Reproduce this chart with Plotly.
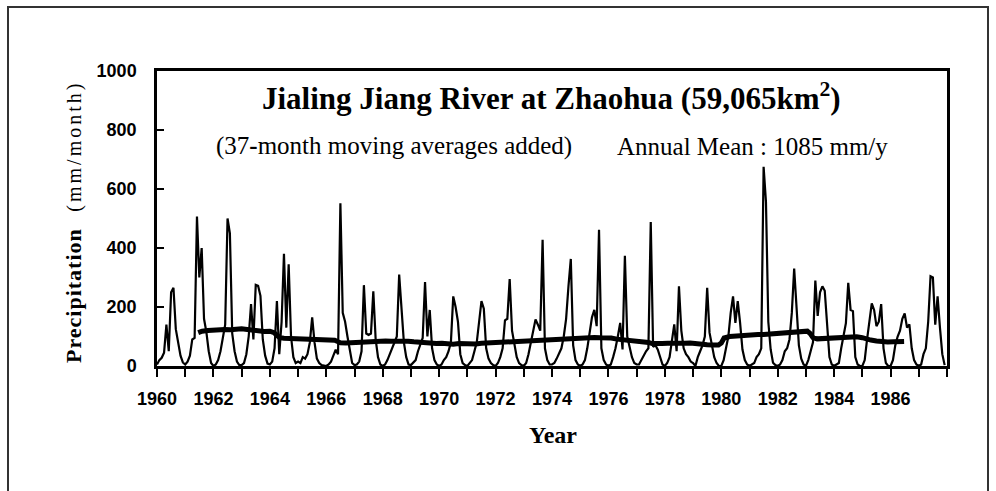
import plotly.graph_objects as go

# ---------------- data ----------------
start_year = 1960

# monthly precipitation (mm/month), Jan 1960 .. Dec 1987, 12 values per row
precip_mm = [
    5, 20, 28, 45, 140, 50, 250, 265, 125, 75, 35, 12,          # 1960
    5, 15, 35, 90, 95, 507, 300, 400, 160, 115, 50, 10,         # 1961
    0, 5, 20, 50, 100, 140, 500, 450, 110, 50, 15, 3,           # 1962
    3, 10, 40, 100, 210, 90, 275, 272, 238, 90, 35, 8,          # 1963
    5, 15, 60, 220, 40, 150, 380, 130, 345, 100, 30, 10,        # 1964
    15, 10, 30, 25, 40, 80, 165, 80, 25, 10, 3, 2,              # 1965
    0, 5, 15, 35, 55, 40, 552, 180, 150, 100, 50, 10,           # 1966
    3, 5, 15, 50, 274, 110, 105, 110, 253, 90, 30, 5,           # 1967
    0, 5, 20, 40, 60, 80, 100, 310, 190, 80, 30, 5,             # 1968
    3, 10, 20, 50, 70, 95, 285, 100, 190, 60, 20, 5,            # 1969
    0, 5, 20, 30, 50, 80, 236, 200, 150, 40, 10, 3,             # 1970
    0, 10, 20, 50, 80, 150, 220, 194, 60, 25, 10, 3,            # 1971
    0, 10, 30, 60, 155, 160, 295, 120, 80, 30, 10, 3,           # 1972
    0, 10, 40, 80, 120, 158, 140, 120, 428, 60, 20, 5,          # 1973
    5, 10, 25, 40, 60, 100, 160, 270, 363, 70, 20, 5,           # 1974
    0, 5, 20, 60, 110, 165, 190, 135, 462, 60, 20, 5,           # 1975
    0, 5, 30, 60, 100, 146, 56, 374, 100, 60, 30, 10,           # 1976
    5, 5, 20, 40, 50, 60, 488, 65, 70, 55, 30, 5,               # 1977
    0, 10, 30, 80, 141, 50, 270, 120, 60, 40, 30, 15,           # 1978
    10, 0, 30, 50, 70, 100, 265, 113, 75, 30, 10, 0,            # 1979
    0, 20, 60, 100, 180, 236, 146, 220, 146, 56, 20, 5,         # 1980
    0, 5, 10, 30, 40, 60, 675, 557, 150, 56, 11, 3,             # 1981
    0, 5, 20, 50, 60, 90, 180, 330, 180, 70, 25, 5,             # 1982
    0, 20, 50, 80, 290, 170, 250, 270, 255, 130, 30, 5,         # 1983
    0, 5, 10, 60, 100, 145, 282, 190, 186, 30, 5, 0,            # 1984
    0, 20, 90, 160, 212, 190, 135, 150, 210, 60, 10, 0,         # 1985
    0, 20, 70, 100, 120, 160, 178, 130, 141, 60, 20, 5,         # 1986
    0, 5, 40, 60, 150, 304, 300, 140, 236, 130, 40, 3,          # 1987
]

# 37-month moving average
ma_year = [
    1961.46, 1961.6, 1961.8, 1962.0, 1962.2, 1962.4, 1962.6, 1962.8, 1963.0, 1963.2,
    1963.4, 1963.6, 1963.8, 1964.0, 1964.15, 1964.25, 1964.35, 1964.5, 1964.7, 1964.9,
    1965.1, 1965.3, 1965.5, 1965.7, 1965.9, 1966.1, 1966.3, 1966.42, 1966.5, 1966.7,
    1966.9, 1967.1, 1967.3, 1967.5, 1967.7, 1967.9, 1968.1, 1968.3, 1968.5, 1968.7,
    1968.9, 1969.1, 1969.3, 1969.5, 1969.7, 1969.9, 1970.1, 1970.3, 1970.5, 1970.7,
    1970.9, 1971.1, 1971.3, 1971.5, 1971.7, 1971.9, 1972.1, 1972.3, 1972.5, 1972.7,
    1972.9, 1973.1, 1973.3, 1973.5, 1973.7, 1973.9, 1974.1, 1974.3, 1974.5, 1974.7,
    1974.9, 1975.1, 1975.3, 1975.5, 1975.7, 1975.9, 1976.1, 1976.3, 1976.5, 1976.7,
    1976.9, 1977.1, 1977.3, 1977.42, 1977.55, 1977.7, 1977.9, 1978.1, 1978.3, 1978.5,
    1978.7, 1978.9, 1979.1, 1979.3, 1979.5, 1979.7, 1979.9, 1980.0, 1980.1, 1980.3,
    1980.5, 1980.7, 1980.9, 1981.1, 1981.3, 1981.5, 1981.7, 1981.9, 1982.1, 1982.3,
    1982.5, 1982.7, 1982.9, 1983.05, 1983.15, 1983.25, 1983.4, 1983.6, 1983.8, 1984.0,
    1984.2, 1984.4, 1984.6, 1984.8, 1985.0, 1985.1, 1985.3, 1985.5, 1985.7, 1985.9,
    1986.1, 1986.3, 1986.48,
]
ma_value = [
    113, 118, 120, 122, 121, 124, 123, 125, 126, 124,
    121, 118, 117, 118, 113, 104, 96, 94, 93, 92,
    93, 90, 91, 89, 90, 89, 87, 82, 79, 78,
    79, 81, 84, 85, 86, 85, 85, 84, 85, 83,
    84, 82, 80, 78, 77, 76, 77, 75, 74, 76,
    75, 76, 75, 77, 78, 80, 82, 83, 83, 84,
    84, 85, 86, 87, 88, 90, 92, 93, 93, 95,
    94, 95, 96, 97, 96, 97, 95, 91, 89, 88,
    87, 87, 85, 80, 76, 75, 76, 77, 76, 78,
    77, 78, 75, 73, 72, 71, 71, 78, 95, 100,
    102, 104, 104, 106, 107, 107, 108, 109, 110, 111,
    112, 113, 116, 118, 110, 96, 92, 93, 93, 95,
    96, 98, 99, 99, 96, 92, 88, 85, 82, 81,
    82, 83, 83,
]

year_ticks = [1960, 1962, 1964, 1966, 1968, 1970, 1972, 1974, 1976, 1978, 1980, 1982, 1984, 1986]
year_labels = ["1960", "1962", "1964", "1966", "1968", "1970", "1972",
               "1974", "1976", "1978", "1980", "1982", "1984", "1986"]
minor_years = [1961, 1963, 1965, 1967, 1969, 1971, 1973, 1975, 1977, 1979,
               1981, 1983, 1985, 1987, 1988]

x_month = [start_year + i / 12 for i in range(len(precip_mm))]

# ---------------- figure ----------------
W, H = 996, 491
L, R, T, B = 157, 49, 71, 125
PW, PH = W - L - R, H - T - B


def px(xp):
    return (xp - L) / PW


def py(yp):
    return (H - B - yp) / PH


SERIF = "Liberation Serif, Times New Roman, serif"
SANS = "Liberation Sans, Arial, sans-serif"

fig = go.Figure()
fig.add_trace(go.Scatter(x=x_month, y=precip_mm, mode="lines",
                         line=dict(color="black", width=2.2), hoverinfo="skip"))
fig.add_trace(go.Scatter(x=ma_year, y=ma_value, mode="lines",
                         line=dict(color="black", width=5), hoverinfo="skip"))

fig.update_layout(
    width=W, height=H,
    margin=dict(l=L, r=R, t=T, b=B, pad=0),
    paper_bgcolor="white", plot_bgcolor="white",
    showlegend=False,
    xaxis=dict(
        range=[1960, 1988], tickmode="array", tickvals=year_ticks, ticktext=year_labels,
        ticks="outside", ticklen=8, tickwidth=2, tickcolor="black",
        minor=dict(tickmode="array", tickvals=minor_years, ticks="outside",
                   ticklen=8, tickwidth=2, tickcolor="black", showgrid=False),
        showline=True, linewidth=3, linecolor="black", mirror=True,
        showgrid=False, zeroline=False,
        tickfont=dict(family=SANS, size=18, color="black", weight="bold"),
        ticklabelstandoff=6,
    ),
    yaxis=dict(
        range=[0, 1000], tickmode="linear", tick0=0, dtick=200,
        ticks="inside", ticklen=7, tickwidth=2, tickcolor="black",
        showline=True, linewidth=2.5, linecolor="black", mirror=True,
        showgrid=False, zeroline=False,
        tickfont=dict(family=SANS, size=18, color="black", weight="bold"),
        ticklabelstandoff=14,
    ),
    annotations=[
        dict(text="<b>Jialing Jiang River at Zhaohua (59,065km<sup>2</sup>)</b>",
             xref="paper", yref="paper", x=px(551), y=py(96), xanchor="center", yanchor="middle",
             showarrow=False, font=dict(family=SERIF, size=31, color="black")),
        dict(text="(37<b>-</b>month moving averages added)",
             xref="paper", yref="paper", x=px(394), y=py(146), xanchor="center", yanchor="middle",
             showarrow=False, font=dict(family=SERIF, size=25, color="black")),
        dict(text="Annual Mean : 1085 mm/y",
             xref="paper", yref="paper", x=px(752), y=py(146), xanchor="center", yanchor="middle",
             showarrow=False, font=dict(family=SERIF, size=25, color="black")),
        dict(text="<b><span style='letter-spacing:1px'>Precipitation</span></b>&nbsp;&nbsp;&nbsp;"
                  "<span style='font-size:20px;letter-spacing:3px'>(mm/month)</span>",
             xref="paper", yref="paper", x=px(74), y=py(222), xanchor="center", yanchor="middle",
             textangle=-90, showarrow=False, font=dict(family=SERIF, size=22, color="black")),
        dict(text="<b>Year</b>",
             xref="paper", yref="paper", x=px(553), y=py(435), xanchor="center", yanchor="middle",
             showarrow=False, font=dict(family=SERIF, size=24, color="black")),
    ],
    shapes=[
        dict(type="rect", xref="paper", yref="paper",
             x0=px(8), x1=px(988), y0=py(7), y1=py(560),
             line=dict(color="#333333", width=2), fillcolor="rgba(0,0,0,0)", layer="below"),
    ],
)

fig.write_html("out.html",
               config={"displayModeBar": False},
               post_script="document.body.style.margin='0px';document.body.style.overflow='hidden';")
